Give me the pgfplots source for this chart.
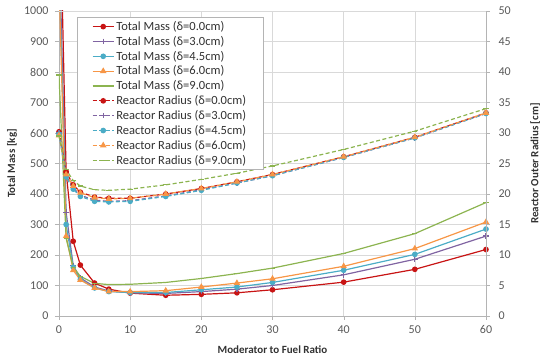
\documentclass[border=0pt]{standalone}
\usepackage{pgfplots}
\pgfplotsset{compat=1.18}
\usepackage{fontspec}
\setmainfont{Carlito}
\definecolor{cRed}{RGB}{200,20,20}
\definecolor{cPur}{RGB}{128,100,162}
\definecolor{cCya}{RGB}{75,172,198}
\definecolor{cOra}{RGB}{247,150,70}
\definecolor{cGre}{RGB}{140,180,80}
\definecolor{cGrid}{RGB}{217,217,217}
\definecolor{cAx}{RGB}{180,180,180}
\definecolor{cTick}{RGB}{89,89,89}
\definecolor{cLab}{RGB}{50,50,50}

\pgfplotstableread{
x     red   pur   cya   ora   gre
0     1500  1250  1150  1100  790
1     473   340   300   262   255
2     245   165   160   150   160
3     167   125   120   118   130
5     108   95    92    92    107
7     88    82    80    80    103
10    75    76    77    80    104
15    68    74    77    83    110
20    71    80    86    95    123
25    76    88    95    108   139
30    86    100   110   122   157
40    111   135   150   163   205
50    153   186   202   221   270
60    218   262   285   308   372
}\masstab

\pgfplotstableread{
x     red   pur   cya   ora   gre
0     30.2  30.0  29.8  29.6  29.5
1     23.6  23.0  22.8  23.2  24.0
2     21.5  21.0  20.8  21.3  22.2
3     20.3  19.8  19.6  20.2  21.3
5     19.5  19.0  18.8  19.4  20.7
7     19.3  18.8  18.7  19.2  20.6
10    19.3  18.9  18.8  19.3  20.8
15    20.0  19.7  19.6  20.0  21.5
20    20.9  20.7  20.6  20.9  22.4
25    22.0  21.8  21.8  22.0  23.4
30    23.2  23.0  23.0  23.2  24.6
40    26.1  26.0  26.0  26.1  27.3
50    29.3  29.2  29.2  29.3  30.3
60    33.3  33.2  33.2  33.3  34.0
}\radtab

\pgfplotsset{
  common/.style={
    width=427pt, height=305pt, scale only axis,
    xmin=0, xmax=60,
    tick label style={font=\fontsize{12}{14}\selectfont, text=cTick},
    label style={font=\fontsize{11}{13}\selectfont\bfseries, text=cLab},
    /pgf/number format/assume math mode=true,
    /pgf/number format/1000 sep={},
    tick style={cAx},
    major tick length=4pt,
  },
  ms/.style={line width=1.2pt, mark size=2.2pt, mark options={solid}},
  rd/.style={line width=1.2pt, mark size=2.2pt, dash pattern=on 4pt off 2.5pt, mark options={solid}},
}

\begin{document}
\begin{tikzpicture}[x=1pt,y=1pt]
\useasboundingbox (-59,-42) rectangle (484,316);
\begin{axis}[common,
  at={(0,0)}, anchor=south west,
  ymin=0, ymax=1000, ytick={0,100,...,1000},
  xtick={0,10,...,60},
  grid=major, grid style={cGrid, line width=0.6pt},
  axis line style={cAx},
  axis y line*=left, axis x line*=bottom,
  ylabel={Total Mass [kg]},
  xlabel={Moderator to Fuel Ratio},
  ylabel style={at={(axis description cs:-0.110,0.5)}, anchor=center},
  xlabel style={at={(axis description cs:0.5,-0.112)}, anchor=center},
  yticklabel style={xshift=-3pt},
  xticklabel style={yshift=-2pt},
  xtick align=outside, ytick align=outside,
]
\addplot[ms, cRed, mark=*] table[x=x,y=red] {\masstab};
\addplot[ms, cPur, mark=+, mark size=2.8pt] table[x=x,y=pur] {\masstab};
\addplot[ms, cCya, mark=*] table[x=x,y=cya] {\masstab};
\addplot[ms, cOra, mark=triangle*, mark size=2.6pt] table[x=x,y=ora] {\masstab};
\addplot[ms, cGre, mark=-, mark size=2.6pt] table[x=x,y=gre] {\masstab};
\draw[cGrid, line width=0.6pt] (rel axis cs:0,1) -- (rel axis cs:1,1);
\end{axis}
\begin{axis}[common,
  at={(0,0)}, anchor=south west,
  ymin=0, ymax=50, ytick={0,5,...,50},
  axis y line*=right, axis x line=none,
  axis line style={cAx},
  ytick align=outside,
  yticklabel style={xshift=5pt},
  ylabel={Reactor Outer Radius [cm]},
  ylabel style={at={(axis description cs:1.115,0.5)}, anchor=center},
  legend style={at={(axis description cs:0.042,0.98)}, anchor=north west,
    draw=cAx, fill=white, font=\fontsize{12.5}{14}\selectfont, text=cLab,
    row sep=0.2pt, inner xsep=15pt, inner ysep=2pt},
  legend cell align=left,
  legend image code/.code={
    \draw[#1] (0pt,0pt) -- (10pt,0pt) -- (21pt,0pt);
    \draw[#1, solid] plot coordinates {(10.5pt,0pt)};
  },
]
\addlegendimage{ms, cRed, mark=*}
\addlegendentry{Total Mass (δ=0.0cm)}
\addlegendimage{ms, cPur, mark=+, mark size=2.8pt}
\addlegendentry{Total Mass (δ=3.0cm)}
\addlegendimage{ms, cCya, mark=*}
\addlegendentry{Total Mass (δ=4.5cm)}
\addlegendimage{ms, cOra, mark=triangle*, mark size=2.6pt}
\addlegendentry{Total Mass (δ=6.0cm)}
\addlegendimage{ms, cGre, mark=-, mark size=2.6pt}
\addlegendentry{Total Mass (δ=9.0cm)}
\addplot[rd, cRed, mark=*] table[x=x,y=red] {\radtab};
\addlegendentry{Reactor Radius (δ=0.0cm)}
\addplot[rd, cPur, mark=+, mark size=2.8pt] table[x=x,y=pur] {\radtab};
\addlegendentry{Reactor Radius (δ=3.0cm)}
\addplot[rd, cCya, mark=*] table[x=x,y=cya] {\radtab};
\addlegendentry{Reactor Radius (δ=4.5cm)}
\addplot[rd, cOra, mark=triangle*, mark size=2.6pt] table[x=x,y=ora] {\radtab};
\addlegendentry{Reactor Radius (δ=6.0cm)}
\addplot[rd, cGre, mark=-, mark size=2.6pt] table[x=x,y=gre] {\radtab};
\addlegendentry{Reactor Radius (δ=9.0cm)}
\end{axis}
\end{tikzpicture}
\end{document}
